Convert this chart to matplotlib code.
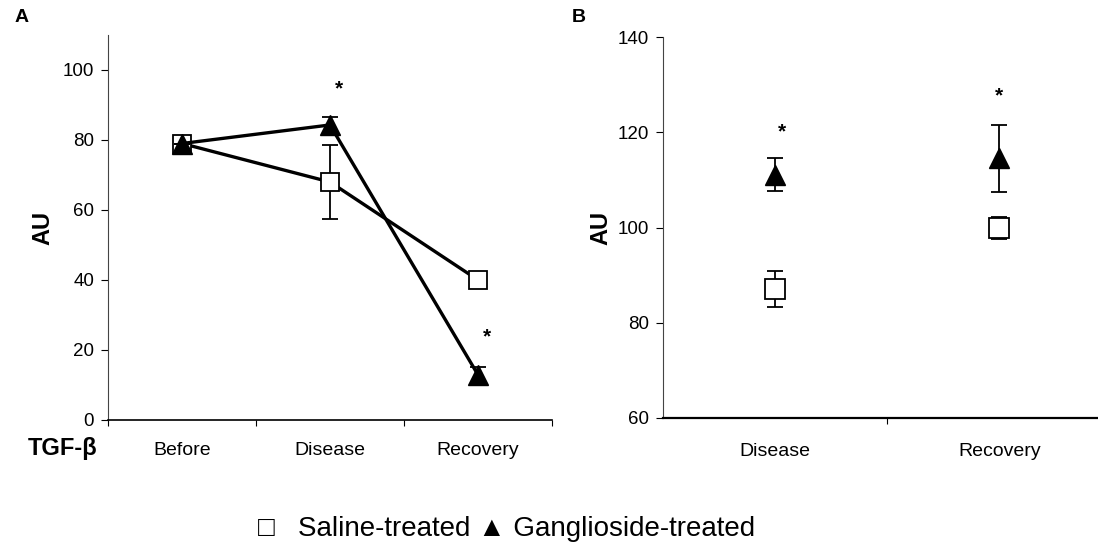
import numpy as np
import matplotlib
matplotlib.use("Agg")
import matplotlib.pyplot as plt

plt.rcParams['font.family'] = ['Liberation Sans', 'DejaVu Sans']

# Panel A data (TGF-beta, AU)
a_categories = ["Before", "Disease", "Recovery"]
a_saline = [79, 68, 40]
a_saline_err = [0, 10.6, 1.5]
a_gang = [79, 84.3, 12.9]
a_gang_err = [0, 2.3, 2.2]
a_star_pos = [1, 2]          # categories with significance stars
a_star_y = [94.6, 23.7]

# Panel B data (AU)
b_categories = ["Disease", "Recovery"]
b_saline = [87.1, 99.9]
b_saline_err = [3.7, 2.4]
b_gang = [111.1, 114.5]
b_gang_err = [3.4, 7.0]
b_star_y = [120.0, 127.6]

fig = plt.figure(figsize=(10.98, 5.49), dpi=100)

# ---------- panel A ----------
axA = fig.add_axes([108 / 1098, 1 - 420 / 549, (552 - 108) / 1098, 385 / 549])
xa = np.arange(len(a_categories))
axA.errorbar(xa, a_saline, yerr=a_saline_err, color='black', lw=2.4,
             marker='s', ms=13, mfc='white', mec='black', mew=1.3,
             ecolor='black', elinewidth=1.3, capsize=5.5, capthick=1.3, zorder=3)
axA.errorbar(xa, a_gang, yerr=a_gang_err, color='black', lw=2.4,
             marker='^', ms=14, mfc='black', mec='black',
             ecolor='black', elinewidth=1.3, capsize=5.5, capthick=1.3, zorder=4)
for xs, ys in zip(a_star_pos, a_star_y):
    axA.text(xs + 0.06, ys, "*", ha='center', va='center', fontsize=15, fontweight='bold')

axA.set_xlim(-0.5, 2.5)
axA.set_ylim(0, 110)
axA.set_yticks([0, 20, 40, 60, 80, 100])
axA.set_xticks([-0.5, 0.5, 1.5, 2.5])
axA.set_xticklabels([])
axA.set_xticks(xa, minor=True)
axA.set_xticklabels(a_categories, minor=True)
axA.tick_params(axis='x', which='minor', length=0, pad=16, labelsize=14)
axA.tick_params(axis='x', which='major', length=4, direction='out')
axA.tick_params(axis='y', length=5, direction='out', pad=5, labelsize=13.5)
axA.set_ylabel("AU", fontsize=17, fontweight='bold', labelpad=6)
for s in ['top', 'right']:
    axA.spines[s].set_visible(False)
axA.spines['left'].set_linewidth(0.8)
axA.spines['left'].set_color('#444444')
axA.spines['bottom'].set_linewidth(1.2)

# ---------- panel B ----------
axB = fig.add_axes([663 / 1098, 1 - 418 / 549, (1098 - 663) / 1098, 381 / 549])
xb = np.arange(len(b_categories))
axB.errorbar(xb, b_saline, yerr=b_saline_err, ls='none',
             marker='s', ms=14, mfc='white', mec='black', mew=1.3,
             ecolor='black', elinewidth=1.3, capsize=5.5, capthick=1.3, zorder=3)
axB.errorbar(xb, b_gang, yerr=b_gang_err, ls='none',
             marker='^', ms=15, mfc='black', mec='black',
             ecolor='black', elinewidth=1.3, capsize=5.5, capthick=1.3, zorder=4)
for xs, ys, dx in zip(xb, b_star_y, [0.03, 0.0]):
    axB.text(xs + dx, ys, "*", ha='center', va='center', fontsize=15, fontweight='bold')

axB.set_xlim(-0.5, 1.44)
axB.set_ylim(60, 140)
axB.set_yticks([60, 80, 100, 120, 140])
axB.set_xticks([0.5])
axB.set_xticklabels([])
axB.set_xticks(xb, minor=True)
axB.set_xticklabels(b_categories, minor=True)
axB.tick_params(axis='x', which='minor', length=0, pad=18, labelsize=14)
axB.tick_params(axis='x', which='major', length=4, direction='out')
axB.tick_params(axis='y', length=5, direction='out', pad=5, labelsize=13.5)
axB.set_ylabel("AU", fontsize=17, fontweight='bold', labelpad=4)
for s in ['top', 'right']:
    axB.spines[s].set_visible(False)
axB.spines['left'].set_linewidth(0.8)
axB.spines['left'].set_color('#444444')
axB.spines['bottom'].set_linewidth(1.6)

# panel letters and row label
fig.text(15 / 1098, 1 - 18 / 549, "A", fontsize=14, fontweight='bold', ha='left', va='center')
fig.text(572 / 1098, 1 - 18 / 549, "B", fontsize=14, fontweight='bold', ha='left', va='center')
fig.text(63 / 1098, 1 - 449 / 549, "TGF-β", fontsize=17, fontweight='bold', ha='center', va='center')

# legend drawn as one text line, like the original figure
fig.text(258 / 1098, 1 - 529 / 549, "□   Saline-treated ▲ Ganglioside-treated",
         fontsize=20, ha='left', va='center')

fig.savefig("out.png", dpi=100)
